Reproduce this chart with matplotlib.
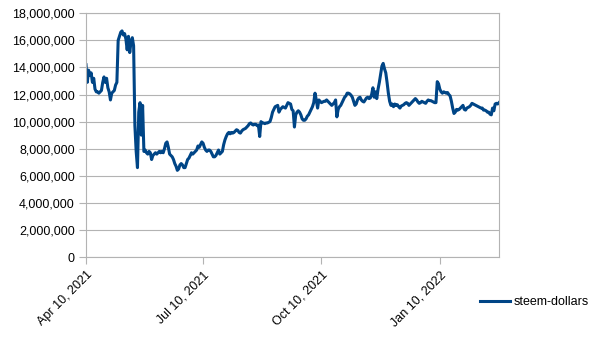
import datetime as dt
import numpy as np
import matplotlib
matplotlib.use('Agg')
import matplotlib.pyplot as plt
import matplotlib.dates as mdates
import matplotlib.ticker as mticker

plt.rcParams['font.family'] = ['Liberation Sans', 'DejaVu Sans']

# daily steem-dollars supply, starting 2021-04-10 (values in millions)
start_date = dt.date(2021, 4, 10)
supply_m = [
    14.2, 12.9, 13.8, 13.4, 13.6, 12.9, 13.2, 12.4, 12.2, 12.2,
    12.1, 12.2, 12.3, 12.9, 13.3, 12.9, 13.2, 12.5, 12.2, 11.6,
    12.1, 12.2, 12.3, 12.7, 12.9, 16.0, 16.3, 16.6, 16.7, 16.4,
    16.5, 16.1, 15.3, 16.3, 15.1, 15.9, 16.2, 15.6, 9.7, 7.8,
    6.6, 10.7, 11.4, 9.0, 11.2, 7.8, 7.9, 7.7, 7.6, 7.8,
    7.7, 7.2, 7.5, 7.6, 7.7, 7.6, 7.7, 7.8, 7.7, 7.8,
    7.7, 8.0, 8.4, 8.5, 8.1, 7.6, 7.5, 7.4, 7.2, 6.9,
    6.7, 6.4, 6.5, 6.8, 6.9, 6.8, 6.6, 6.6, 6.9, 7.2,
    7.3, 7.5, 7.7, 7.6, 7.7, 7.8, 7.9, 8.2, 8.1, 8.3,
    8.5, 8.4, 8.1, 7.9, 7.8, 7.9, 7.9, 7.8, 7.6, 7.4,
    7.4, 7.5, 7.7, 7.9, 7.6, 7.7, 7.8, 8.3, 8.65, 8.9,
    9.1, 9.2, 9.1, 9.2, 9.15, 9.2, 9.3, 9.4, 9.35, 9.2,
    9.15, 9.3, 9.4, 9.45, 9.5, 9.6, 9.7, 9.85, 9.9, 9.8,
    9.75, 9.8, 9.8, 9.7, 9.75, 8.9, 10.0, 9.9, 9.9, 9.85,
    9.9, 9.9, 9.95, 10.0, 10.3, 10.7, 10.9, 11.1, 11.15, 11.2,
    10.7, 10.9, 11.0, 11.1, 11.05, 11.0, 11.2, 11.4, 11.35, 11.3,
    10.9, 10.8, 9.6, 10.5, 10.7, 10.8, 10.7, 10.5, 10.2, 10.1,
    10.1, 10.2, 10.4, 10.5, 10.7, 10.9, 11.1, 11.4, 12.1, 11.6,
    11.0, 11.6, 11.5, 11.4, 11.45, 11.5, 11.5, 11.6, 11.5, 11.4,
    11.3, 11.2, 11.3, 11.4, 11.6, 10.35, 10.9, 11.1, 11.2, 11.4,
    11.6, 11.8, 11.9, 12.1, 12.1, 12.05, 11.95, 11.8, 11.5, 11.2,
    11.3, 11.6, 11.75, 11.8, 11.6, 11.5, 11.45, 11.6, 11.75, 11.8,
    11.7, 11.75, 12.0, 12.5, 11.8, 12.2, 11.7, 12.4, 12.9, 13.5,
    14.1, 14.3, 13.9, 13.6, 12.9, 12.1, 11.5, 11.2, 11.3, 11.1,
    11.3, 11.2, 11.25, 11.1, 11.0, 11.15, 11.2, 11.25, 11.35, 11.4,
    11.35, 11.2, 11.3, 11.4, 11.5, 11.6, 11.7, 11.6, 11.45, 11.35,
    11.4, 11.5, 11.45, 11.4, 11.35, 11.5, 11.6, 11.55, 11.55, 11.5,
    11.45, 11.4, 11.4, 12.95, 12.8, 12.4, 12.2, 12.1, 12.2, 12.15,
    12.1, 12.15, 12.0, 11.9, 11.5, 11.0, 10.6, 10.7, 10.9, 10.85,
    10.9, 11.0, 11.1, 11.2, 10.9, 10.85, 11.0, 11.05, 11.1, 11.2,
    11.35, 11.3, 11.25, 11.2, 11.15, 11.1, 11.05, 11.0, 11.0, 10.85,
    10.85, 10.8, 10.7, 10.7, 10.55, 10.5, 11.0, 10.8, 11.3, 11.35,
    11.3, 11.4,
]
series_name = 'steem-dollars'

dates = [start_date + dt.timedelta(days=i) for i in range(len(supply_m))]
values = np.array(supply_m) * 1e6

grey = '#b3b3b3'
fig = plt.figure(figsize=(6.05, 3.4), dpi=100)
ax = fig.add_axes([86 / 605, 1 - 257 / 340, 413 / 605, 243.7 / 340])

line, = ax.plot(dates, values, color='#004586', lw=2.2, solid_joinstyle='round',
                label=series_name)

ax.set_xlim(dates[0], dates[-1])
ax.set_ylim(0, 18e6)
ax.yaxis.set_major_locator(mticker.MultipleLocator(2e6))
ax.yaxis.set_major_formatter(mticker.FuncFormatter(lambda v, p: f'{v:,.0f}'))
ax.xaxis.set_major_locator(mdates.MonthLocator(bymonth=[1, 4, 7, 10], bymonthday=10))
ax.xaxis.set_major_formatter(mdates.DateFormatter('%b %d, %Y'))

ax.grid(axis='y', color=grey, lw=0.8)
ax.set_axisbelow(True)
for s in ax.spines.values():
    s.set_color(grey)
    s.set_linewidth(0.8)
ax.tick_params(axis='both', colors=grey, labelcolor='black', labelsize=9,
               length=5, width=0.8)
ax.tick_params(axis='y', pad=3)
for lbl in ax.get_xticklabels():
    lbl.set_rotation(45)
    lbl.set_ha('right')
    lbl.set_rotation_mode('anchor')

fig.legend(handles=[line], loc='center left', bbox_to_anchor=(480 / 605, 1 - 302 / 340),
           frameon=False, fontsize=9, handlelength=2.4, handletextpad=0.3,
           borderpad=0, borderaxespad=0)

fig.savefig('out.png', dpi=100)
